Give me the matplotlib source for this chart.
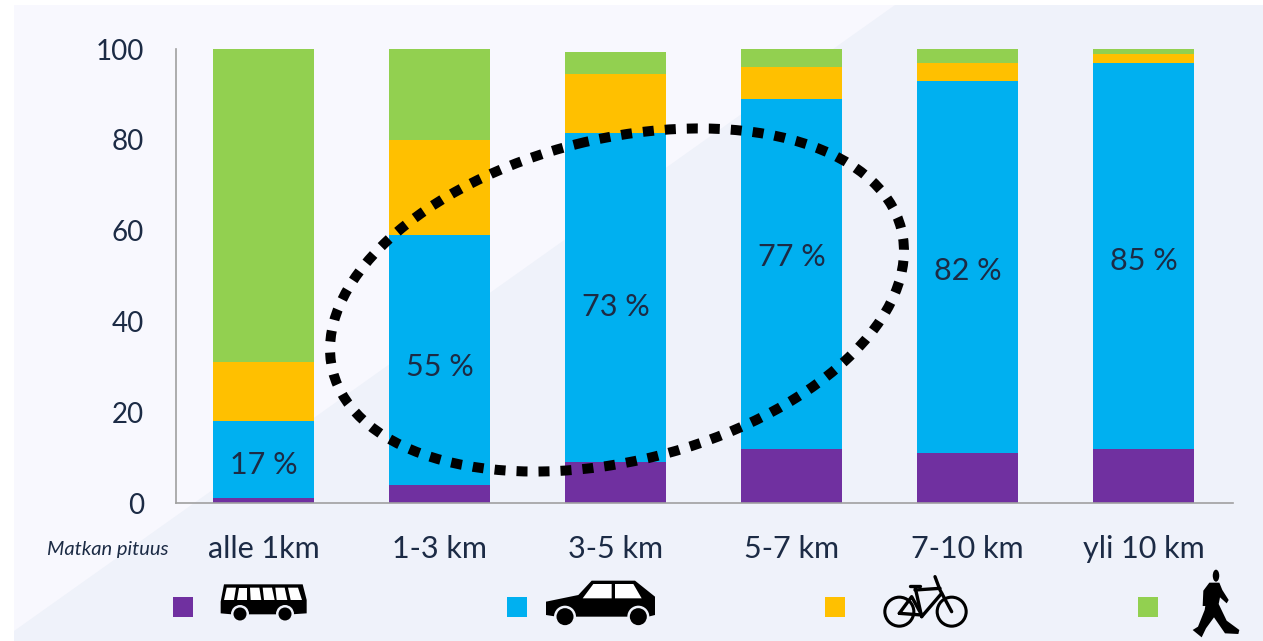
import matplotlib
matplotlib.use("Agg")
import matplotlib.pyplot as plt
from matplotlib.patches import Polygon, Circle, Ellipse, Rectangle

plt.rcParams['font.family'] = ['Lato', 'DejaVu Sans']

# Data
distances = ["alle 1km", "1-3 km", "3-5 km", "5-7 km", "7-10 km", "yli 10 km"]
bus = [1, 4, 9, 12, 11, 12]
car = [17, 55, 72.5, 77, 82, 85]
bike = [13, 21, 13, 7, 4, 1.8]
walk = [69, 20, 4.8, 4, 3, 1.2]
car_labels = ["17 %", "55 %", "73 %", "77 %", "82 %", "85 %"]
y_ticks = [0, 20, 40, 60, 80, 100]

PURPLE = "#7030a0"
BLUE = "#00b0f0"
YELLOW = "#ffc000"
GREEN = "#92d050"
TEXT = "#1c2b45"
PANEL_DARK = "#eff2fa"
PANEL_LIGHT = "#f8f8fe"

W, H = 1263, 641
fig = plt.figure(figsize=(W / 100, H / 100), dpi=100, facecolor="white")

#Background panel, in pixels
bg = fig.add_axes([0, 0, 1, 1], zorder=0)
bg.set_xlim(0, W)
bg.set_ylim(H, 0)
bg.axis("off")
bg.add_patch(Rectangle((14, 5), W - 14, H - 5, fc=PANEL_DARK, ec="none"))
bg.add_patch(Polygon([(14, 5), (895, 5), (14, 631)], fc=PANEL_LIGHT, ec="none"))

#The chart itself
ax = fig.add_axes([176 / W, (H - 503) / H, (1233 - 176) / W, 454 / H], zorder=1)
ax.patch.set_alpha(0)
x = list(range(len(distances)))
bottom = [0] * len(x)
for values, color in [(bus, PURPLE), (car, BLUE), (bike, YELLOW), (walk, GREEN)]:
    ax.bar(x, values, width=0.574, bottom=bottom, color=color, linewidth=0)
    bottom = [b + v for b, v in zip(bottom, values)]

ax.set_xlim(-87.5 / 176, (1233 - 263.5) / 176)
ax.set_ylim(0, 100)
ax.set_yticks(y_ticks)
ax.set_xticks(x)
ax.set_xticklabels(distances)
ax.tick_params(axis="y", length=0, pad=23, labelsize=20, labelcolor=TEXT)
ax.tick_params(axis="x", length=0, pad=23, labelsize=22, labelcolor=TEXT)
for s in ["top", "right"]:
    ax.spines[s].set_visible(False)
for s in ["left", "bottom"]:
    ax.spines[s].set_color("#a0a0a0")
    ax.spines[s].set_linewidth(1.2)

#Percent labels inside the car segment
label_y = [8.4, 30.0, 43.2, 54.2, 51.0, 53.2]
for i, txt in enumerate(car_labels):
    ax.text(i, label_y[i], txt, ha="center", va="center", fontsize=22, color=TEXT)

#Overlay for the dotted ellipse and the legend icons, in pixels
top = fig.add_axes([0, 0, 1, 1], zorder=2)
top.set_xlim(0, W)
top.set_ylim(H, 0)
top.axis("off")
top.patch.set_alpha(0)

# y axis is flipped, so the tilt goes the other way
top.add_patch(Ellipse((617, 300), 586, 322, angle=-14, fill=False, ec="black",
                      lw=7.2, ls=(0, (1.1, 1.1)), capstyle="butt"))

top.text(108, 549, "Matkan pituus", ha="center", va="center", fontsize=14.5,
         style="italic", color=TEXT)

for left, color in [(173, PURPLE), (507, BLUE), (825, YELLOW), (1138, GREEN)]:
    top.add_patch(Rectangle((left, 597), 20, 20, fc=color, ec="none"))


def pts(points, ox, oy):
    return [(ox + px / 3, oy + py / 3) for px, py in points]


def wheel(cx, cy, r):
    top.add_patch(Circle((cx, cy), r + 2.5, fc=PANEL_DARK, ec="none"))
    top.add_patch(Circle((cx, cy), r, fc="black", ec="none"))


#Bus
ox, oy = 160, 570
top.add_patch(Polygon(pts([(192, 43), (428, 43), (440, 90), (440, 130), (395, 133),
                           (215, 133), (182, 130), (182, 95)], ox, oy), fc="black", ec="none"))
for a, b, c, d in [(200, 228, 222, 192), (236, 262, 262, 232), (270, 298, 304, 272),
                   (308, 336, 344, 312), (346, 374, 382, 350), (384, 414, 426, 392)]:
    top.add_patch(Polygon(pts([(a, 53), (b, 53), (c, 90), (d, 90)], ox, oy), fc="white", ec="none"))
wheel(ox + 240 / 3, oy + 132 / 3, 6.5)
wheel(ox + 375 / 3, oy + 132 / 3, 6.5)

#Car
ox, oy = 500, 570
top.add_patch(Polygon(pts([(138, 95), (235, 75), (275, 32), (405, 32), (465, 80), (465, 135),
                           (445, 140), (170, 140), (138, 135)], ox, oy), fc="black", ec="none"))
top.add_patch(Polygon(pts([(248, 85), (280, 42), (335, 42), (335, 85)], ox, oy), fc="white", ec="none"))
top.add_patch(Polygon(pts([(345, 42), (400, 42), (425, 85), (345, 85)], ox, oy), fc="white", ec="none"))
wheel(ox + 195 / 3, oy + 140 / 3, 8.5)
wheel(ox + 415 / 3, oy + 140 / 3, 8.5)

#Bicycle
ox, oy = 870, 565
for cx in [88, 245]:
    top.add_patch(Circle((ox + cx / 3, oy + 140 / 3), 14.5, fill=False, ec="black", lw=2.2))
bike_lines = [
    [(120, 62), (150, 62)],
    [(135, 65), (155, 155)],
    [(135, 75), (210, 70)],
    [(215, 85), (155, 155)],
    [(88, 145), (125, 95), (155, 150), (88, 145)],
    [(195, 35), (210, 75), (245, 140)],
]
for line in bike_lines:
    p = pts(line, ox, oy)
    top.plot([q[0] for q in p], [q[1] for q in p], color="black", lw=2.4,
             solid_capstyle="round")

#Walker
ox, oy = 1170, 560
top.add_patch(Ellipse((ox + 138 / 3, oy + 47 / 3), 6.5, 12, fc="black", ec="none"))
top.add_patch(Polygon(pts([(118, 68), (148, 68), (157, 90), (176, 120), (170, 130), (150, 112),
                           (146, 132), (170, 182), (208, 210), (205, 222), (165, 220), (132, 172),
                           (108, 205), (95, 232), (68, 210), (84, 200), (104, 150), (110, 112),
                           (108, 138), (98, 138), (100, 92)], ox, oy), fc="black", ec="none"))

fig.savefig("out.png", dpi=100)
